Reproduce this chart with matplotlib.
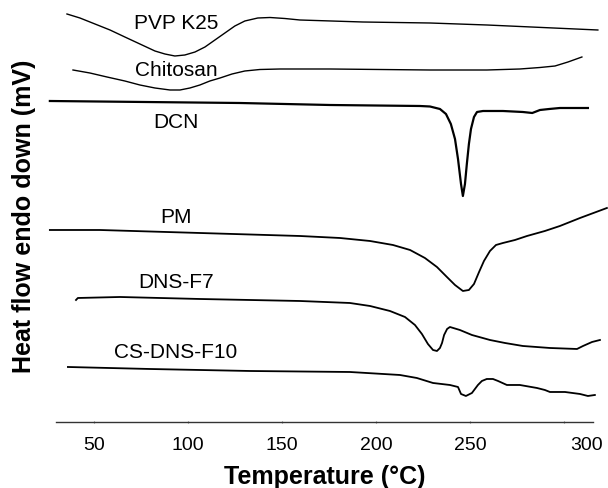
# -*- coding: utf-8 -*-

'''
DSC thermograms - PVP K25, Chitosan, DCN, PM, DNS-F7, CS-DNS-F10
'''

import matplotlib
matplotlib.use('Agg')
import matplotlib.pyplot as plt
import matplotlib.transforms as mtransforms

plt.rcParams['font.family'] = ['Liberation Sans', 'DejaVu Sans']

# temperature (C) / heat flow (mV, offset per trace)
pvp_t = [35.5, 42.4, 50.4, 58.4, 66.3, 74.3, 82.3, 87.6, 92.9, 98.2, 103.6, 108.9, 114.2, 119.5, 124.8,
         130.1, 137.0, 143.5, 151.4, 159.4, 192.9, 228.6, 258.9, 317.9]
pvp_hf = [4.08, 4.04, 3.98, 3.92, 3.85, 3.78, 3.71, 3.68, 3.66, 3.67, 3.70, 3.75, 3.82, 3.89, 3.96,
          4.01, 4.04, 4.045, 4.035, 4.02, 4.00, 3.99, 3.97, 3.92]

chi_t = [38.7, 47.7, 56.8, 66.3, 74.3, 82.3, 90.3, 95.6, 100.9, 106.2, 111.5, 116.9, 123.3, 130.1,
         138.1, 148.8, 175.4, 228.6, 258.9, 276.4, 287.1, 295.1, 302.0, 309.4]
chi_hf = [3.52, 3.49, 3.45, 3.41, 3.37, 3.34, 3.32, 3.32, 3.34, 3.37, 3.41, 3.44, 3.48, 3.51,
          3.525, 3.53, 3.53, 3.52, 3.52, 3.53, 3.545, 3.56, 3.60, 3.65]

dcn_t = [26.4, 127.5, 175.4, 223.3, 228.6, 233.9, 237.1, 239.7, 241.9, 243.5, 245.1, 246.1, 247.2, 248.2,
         249.3, 250.4, 252.0, 253.6, 256.8, 267.4, 278.0, 283.0, 287.1, 292.0, 297.7, 312.6]
dcn_hf = [3.21, 3.19, 3.17, 3.16, 3.155, 3.13, 3.08, 2.98, 2.83, 2.63, 2.38, 2.26, 2.38, 2.58,
          2.78, 2.93, 3.05, 3.10, 3.11, 3.11, 3.10, 3.09, 3.12, 3.13, 3.14, 3.14]

pm_t = [26.4, 53.0, 106.2, 159.4, 180.7, 196.7, 208.9, 218.0, 225.9, 232.3, 237.6, 241.9, 246.1, 249.3,
        252.0, 254.7, 257.3, 260.5, 263.7, 267.4, 273.8, 280.2, 289.7, 297.7, 308.4, 322.7]
pm_hf = [1.92, 1.92, 1.89, 1.86, 1.84, 1.81, 1.77, 1.72, 1.64, 1.55, 1.45, 1.37, 1.31, 1.32,
         1.38, 1.50, 1.61, 1.71, 1.77, 1.79, 1.82, 1.86, 1.91, 1.96, 2.04, 2.14]

f7_t = [40.3, 41.3, 63.7, 106.2, 159.4, 186.0, 196.7, 207.3, 215.3, 220.6, 224.3, 227.5, 230.2, 232.3,
        233.9, 235.0, 236.1, 237.7, 239.2, 244.5, 250.9, 260.5, 268.5, 278.0, 292.4, 306.8, 310.0,
        314.8, 319.0]
f7_hf = [1.22, 1.24, 1.25, 1.23, 1.21, 1.19, 1.16, 1.11, 1.05, 0.97, 0.88, 0.78, 0.72, 0.71,
         0.74, 0.79, 0.87, 0.93, 0.95, 0.92, 0.87, 0.82, 0.79, 0.76, 0.74, 0.73, 0.76,
         0.80, 0.82]

f10_t = [36.0, 79.6, 132.8, 186.0, 212.6, 221.6, 230.2, 239.2, 243.5, 245.1, 247.7, 250.9, 254.1, 256.2,
         258.8, 262.1, 264.8, 269.5, 276.4, 285.5, 289.7, 292.4, 300.4, 308.4, 312.6, 316.3]
f10_hf = [0.55, 0.53, 0.51, 0.50, 0.47, 0.44, 0.39, 0.37, 0.35, 0.28, 0.26, 0.29, 0.37, 0.41,
          0.43, 0.43, 0.41, 0.37, 0.37, 0.34, 0.32, 0.30, 0.30, 0.28, 0.26, 0.27]

names = ['PVP K25', 'Chitosan', 'DCN', 'PM', 'DNS-F7', 'CS-DNS-F10']
label_t = [93.5, 93.5, 93.5, 93.5, 93.5, 93.5]
label_hf = [3.99, 3.52, 3.00, 2.05, 1.40, 0.70]

xticks = [50, 100, 150, 200, 250, 300]

fig = plt.figure(figsize=(6.08, 4.89), dpi=100)
ax = fig.add_axes([0.0916, 0.135, 0.8837, 0.865])

curves = [(pvp_t, pvp_hf, 1.0), (chi_t, chi_hf, 1.0), (dcn_t, dcn_hf, 1.6),
          (pm_t, pm_hf, 1.3), (f7_t, f7_hf, 1.3), (f10_t, f10_hf, 1.3)]
for t, hf, lw in curves:
    ax.plot(t, hf, color='black', lw=lw, clip_on=False, solid_joinstyle='round')

for name, tx, ty in zip(names, label_t, label_hf):
    ax.text(tx, ty, name, fontsize=15, ha='center', va='center')

ax.set_xlim(29.5, 315.3)
ax.set_ylim(0, 4.23)
for s in ['top', 'right', 'left']:
    ax.spines[s].set_visible(False)
ax.spines['bottom'].set_color('#333333')
ax.spines['bottom'].set_linewidth(1.0)
ax.set_yticks([])
ax.set_xticks(xticks)
ax.set_xticklabels([str(v) for v in xticks])
ax.tick_params(axis='x', length=1.5, direction='inout', width=0.8, labelsize=14, pad=9, color='#777777')

# last label sits at the end of the axis in the original figure
last = ax.get_xticklabels()[-1]
last.set_transform(last.get_transform() + mtransforms.ScaledTranslation(0.22, 0, fig.dpi_scale_trans))

fig.text(324.5 / 608, 1 - 477 / 489, 'Temperature (\u00b0C)', fontsize=18, fontweight='bold',
         ha='center', va='center')
fig.text(24 / 608, 1 - 216 / 489, 'Heat flow endo down (mV)', fontsize=18, fontweight='bold',
         ha='center', va='center', rotation=90)

fig.savefig('out.png', dpi=100)
